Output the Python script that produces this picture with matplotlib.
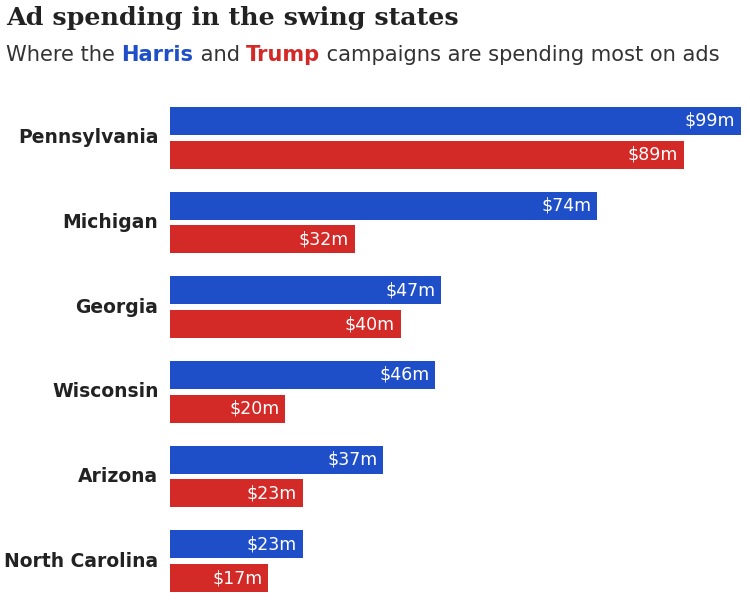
import matplotlib.pyplot as plt

states = ['Pennsylvania', 'Michigan', 'Georgia', 'Wisconsin', 'Arizona', 'North Carolina']
harris = [99, 74, 47, 46, 37, 23]
trump = [89, 32, 40, 20, 23, 17]

blue = '#1f4fc8'
red = '#d42a27'

fig = plt.figure(figsize=(7.5, 6.05), dpi=100)
ax = fig.add_axes([170/750, 1 - 592/605, 577/750, 485/605])

h = 0.33
for i, (s, hv, tv) in enumerate(zip(states, harris, trump)):
    ax.barh(i, hv, height=h, color=blue)
    ax.barh(i + 0.4, tv, height=h, color=red)
    ax.text(hv - 1, i, f'${hv}m', color='white', ha='right', va='center', fontsize=12.5, fontweight='medium')
    ax.text(tv - 1, i + 0.4, f'${tv}m', color='white', ha='right', va='center', fontsize=12.5, fontweight='medium')
    ax.text(-2, i + 0.2, s, ha='right', va='center', fontsize=13.5, fontweight='bold', color='#222222')

ax.set_xlim(0, 100)
ax.set_ylim(5 + 0.4 + h/2, -h/2)
ax.axis('off')

fig.text(6/750, 1 - 18/605, 'Ad spending in the swing states', fontsize=18.3, fontweight='bold',
         family='DejaVu Serif', color='#222222', va='center')

# subtitle with coloured words
parts = [('Where the ', '#333333', 'normal'), ('Harris', blue, 'bold'), (' and ', '#333333', 'normal'),
         ('Trump', red, 'bold'), (' campaigns are spending most on ads', '#333333', 'normal')]
fig.canvas.draw()
r = fig.canvas.get_renderer()
x = 6/750
for txt, c, w in parts:
    t = fig.text(x, 1 - 55/605, txt, fontsize=15.1, color=c, fontweight=w, va='center')
    bb = t.get_window_extent(renderer=r)
    x += bb.width / 750

fig.savefig('out.png', dpi=100, facecolor='white')
